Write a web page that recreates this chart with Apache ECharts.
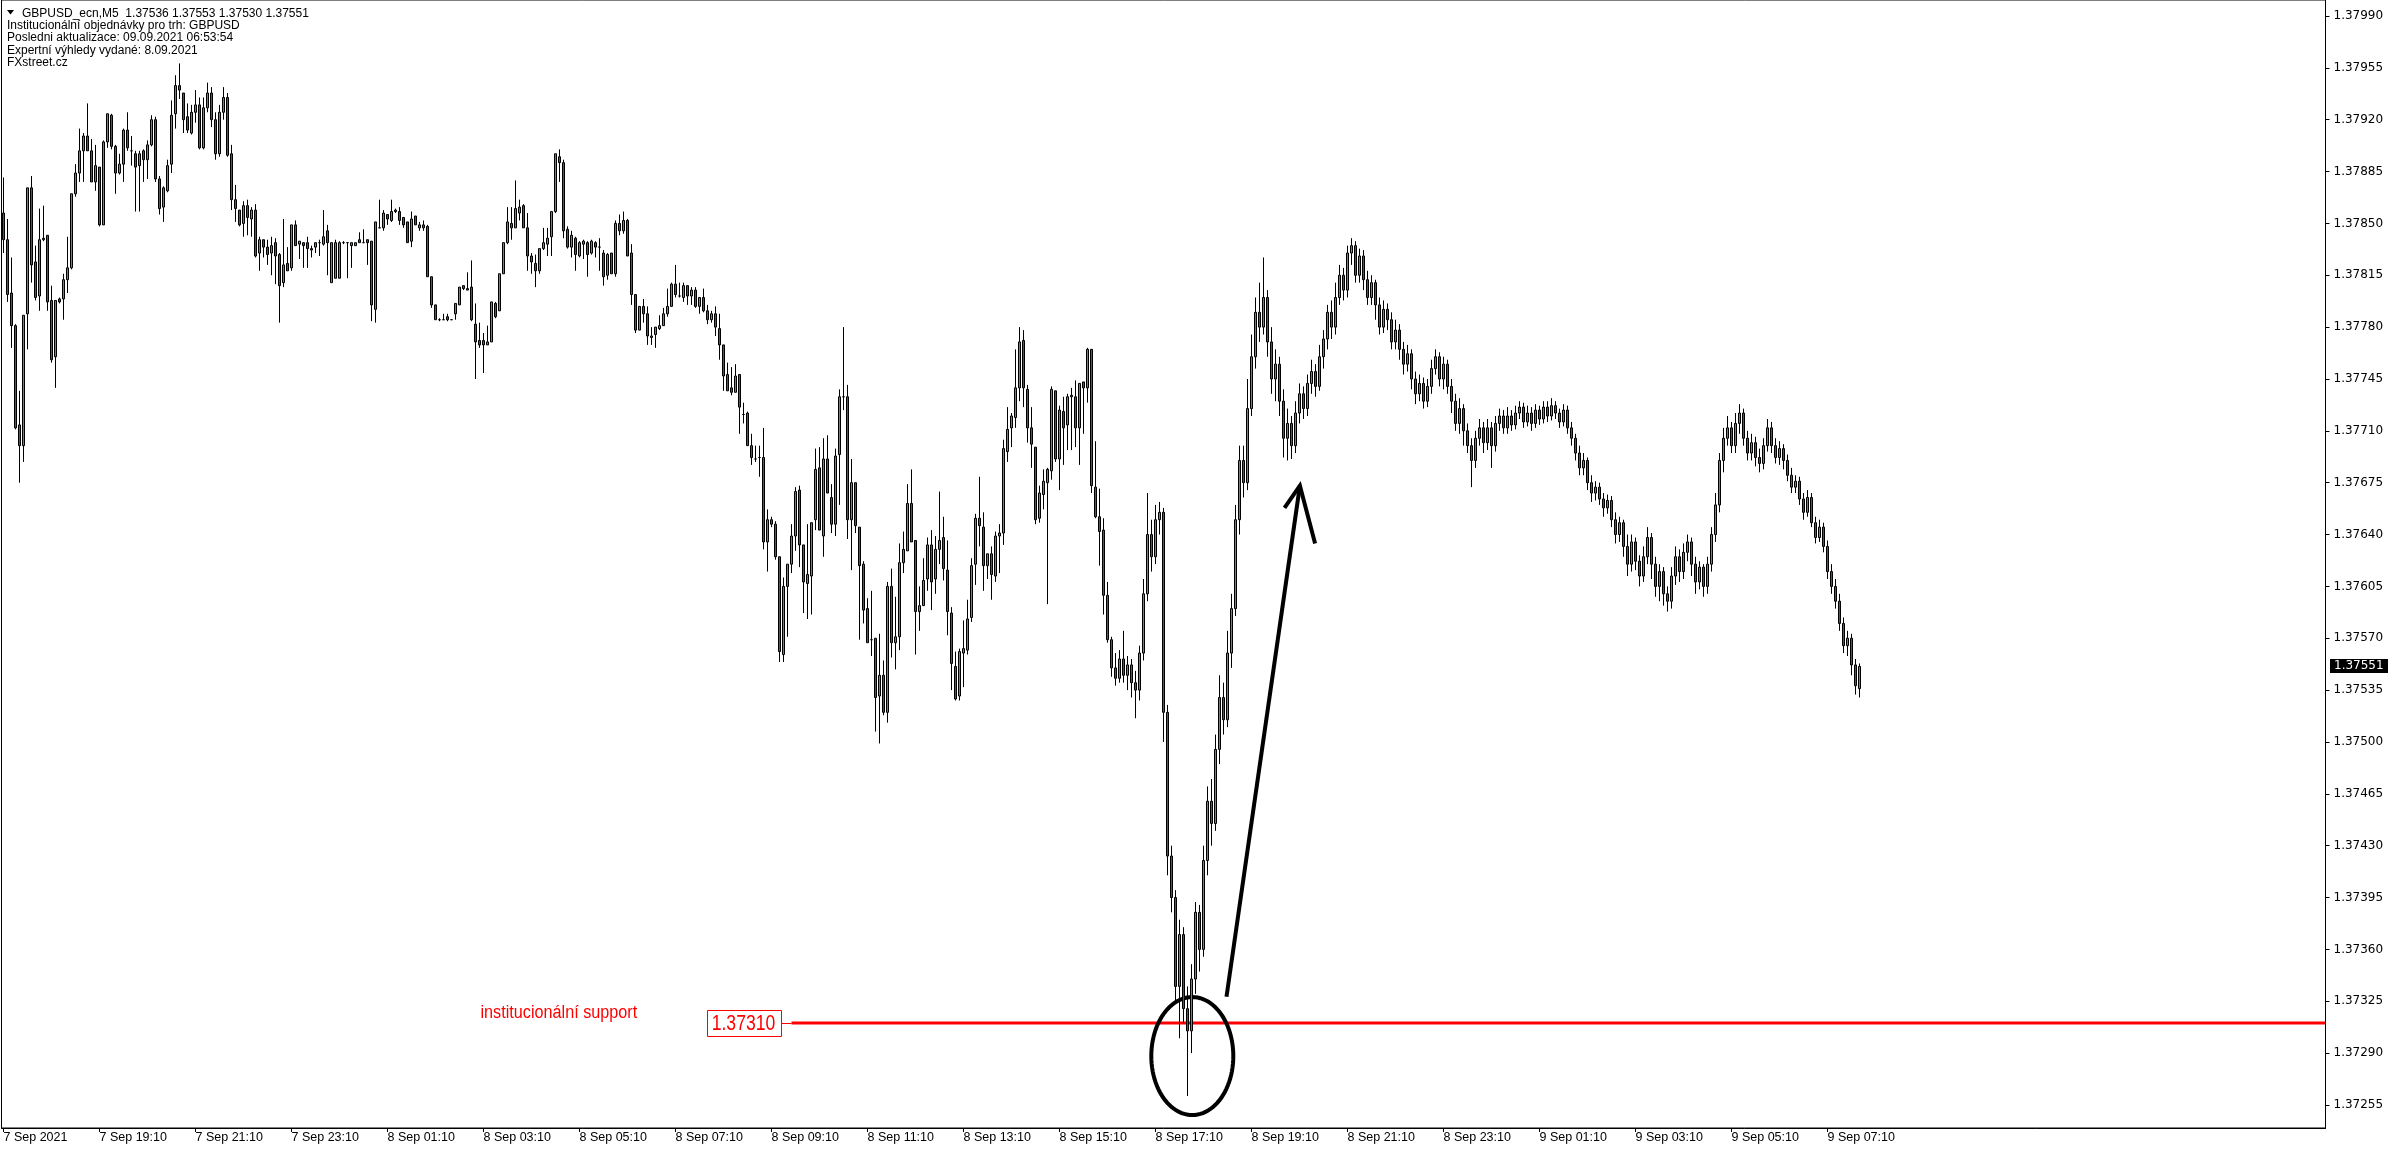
<!DOCTYPE html>
<html>
<head>
<meta charset="utf-8">
<title>GBPUSD_ecn,M5</title>
<script src="https://cdn.jsdelivr.net/npm/echarts@6.0.0/dist/echarts.min.js"></script>
<style>
html,body{margin:0;padding:0;background:#fff;overflow:hidden}
#chart{width:2396px;height:1154px}
</style>
</head>
<body>
<div id="chart"></div>
<script>
// Prices are stored in points (0.00001) above 1.37000; one entry per M5 bar from 7 Sep 17:10.
const PRICE_BASE = 1.37;
const POINT = 0.00001;

const opens = [
857,839,803,781,714,700,789,874,824,801, 839,842,798,760,799,799,812,820,870,884,
899,909,899,878,888,849,905,923,902,884, 890,913,899,897,889,899,893,903,920,880,
861,872,890,924,943,938,922,911,925,930, 901,928,938,920,897,925,935,897,866,859,
850,862,853,859,830,839,834,830,837,829, 810,823,820,849,836,837,837,833,834,837,
836,845,810,813,813,837,837,835,835,839, 837,839,838,792,847,847,856,852,858,858,
854,851,838,855,847,849,848,814,795,785, 785,787,785,789,795,808,806,807,782,771,
771,768,770,796,791,816,837,850,847,857, 862,847,828,823,818,833,836,841,858,895,
891,846,834,840,828,836,837,830,837,834, 830,815,830,816,850,845,852,830,802,778,
794,789,773,775,779,781,789,794,809,801, 800,808,801,805,794,800,791,785,789,779,
768,748,739,736,748,721,722,700,691,692, 692,635,650,647,625,559,605,620,639,670,
633,607,612,650,685,639,691,665,647,694, 733,733,650,675,645,620,590,569,570,531,
545,520,605,567,571,621,629,661,636,588, 592,610,633,610,630,638,616,587,551,531,
560,562,584,620,651,645,619,627,612,639, 641,696,712,719,739,771,738,712,699,651,
667,675,683,737,691,723,714,734,733,712, 743,739,765,672,652,643,599,569,550,543,
556,545,552,540,535,560,600,640,625,650, 655,520,423,395,335,370,320,305,340,385,
360,420,460,445,495,530,515,560,590,650, 690,675,725,760,790,780,800,770,745,755,
730,705,715,700,722,735,725,742,750,740, 760,772,790,780,800,815,805,830,835,815,
828,812,800,810,795,780,792,785,770,778, 765,755,762,745,735,742,730,740,752,760,
745,755,740,730,715,725,710,700,690,705, 712,702,712,700,715,720,712,720,714,722,
726,716,722,715,724,718,726,720,727,722, 716,724,712,705,695,685,690,675,668,672,
664,658,663,650,640,648,632,620,635,622, 612,625,638,620,605,615,600,595,612,625,
615,628,635,620,608,618,605,620,640,660, 690,705,712,700,715,722,705,695,702,692,
688,700,712,700,692,698,690,680,672,676, 664,655,665,648,638,645,632,615,605,595,
580,565,570,552,536
];

const closes = [
839,802,781,712,700,788,874,822,800,839, 840,797,758,798,797,812,820,870,884,899,
909,899,878,889,849,905,924,902,884,890, 913,901,899,888,897,893,903,920,880,860,
874,889,923,943,940,920,913,925,930,901, 928,938,920,897,925,935,896,866,860,849,
862,854,859,828,839,834,829,835,828,808, 822,818,849,835,838,835,833,832,837,837,
841,837,837,837,837,837,837,837,837,837, 837,837,795,851,847,857,853,858,859,852,
849,837,853,849,849,847,814,795,785,785, 785,785,785,796,807,806,805,785,770,768,
768,770,797,787,816,837,851,847,860,861, 847,828,824,818,833,837,840,858,897,891,
845,834,842,829,837,838,829,838,834,834, 814,829,816,850,845,852,828,802,778,794,
789,774,774,780,781,789,794,809,802,801, 808,801,805,794,800,791,785,789,780,768,
747,737,736,747,726,721,700,692,691,692, 635,650,647,625,561,605,620,639,669,633,
608,613,648,684,643,691,668,647,693,733, 733,650,675,646,619,589,567,569,530,545,
520,605,567,571,621,630,661,635,588,592, 609,633,608,630,636,617,588,553,529,561,
563,583,619,651,646,619,627,613,639,641, 698,711,720,739,770,739,712,701,650,668,
676,684,738,691,724,712,733,733,712,742, 739,765,673,652,642,599,569,550,543,556,
545,552,540,535,560,600,640,625,650,655, 520,423,395,335,370,320,305,340,385,360,
420,460,445,495,530,515,560,590,650,690, 675,725,760,790,780,800,770,745,755,730,
705,715,700,722,735,725,742,750,740,760, 772,790,780,800,815,805,830,835,815,828,
812,800,810,795,780,792,785,770,778,765, 755,762,745,735,742,730,740,752,760,745,
755,740,730,715,725,710,700,690,705,712, 702,712,700,715,720,712,720,714,722,726,
716,722,715,724,718,726,720,727,722,716, 724,712,705,695,685,690,675,668,672,664,
658,663,650,640,648,632,620,635,622,612, 625,638,620,605,615,600,595,612,625,615,
628,635,620,608,618,605,620,640,660,690, 705,712,700,715,722,705,695,702,692,688,
700,712,700,692,698,690,680,672,676,664, 655,665,648,638,645,632,615,605,595,580,
565,570,552,538,551
];

const lows = [
830,797,766,711,675,689,765,810,798,791, 838,791,756,739,796,785,803,819,868,878,
878,899,878,872,848,849,901,900,870,883, 878,899,889,858,858,878,880,902,878,856,
851,871,884,914,934,911,911,910,918,900, 900,925,915,893,895,920,895,859,851,848,
841,842,841,827,818,827,822,815,809,783, 807,818,818,835,826,820,820,827,830,828,
835,815,810,813,813,836,813,820,835,837, 837,822,784,783,847,845,849,851,857,849,
847,837,834,849,845,845,814,793,785,784, 785,784,785,785,795,805,805,784,745,766,
749,768,770,786,791,816,836,839,847,852, 847,818,816,807,816,832,828,828,857,878,
840,833,827,818,827,826,814,829,827,818, 808,812,816,814,842,843,828,795,776,778,
783,768,768,766,778,781,787,794,800,800, 797,795,795,793,789,790,782,783,774,758,
737,737,734,736,708,715,700,687,689,679, 630,615,645,623,554,554,571,614,629,618,
587,583,586,643,643,625,668,641,639,660, 724,637,616,641,569,580,567,558,507,499,
518,513,557,549,562,614,629,635,559,575, 592,602,589,600,620,609,572,535,528,528,
537,559,581,606,632,602,610,596,608,614, 633,689,699,712,730,726,702,685,647,648,
657,593,677,689,670,687,697,697,699,687, 708,729,668,651,619,586,567,544,538,540,
540,535,530,516,528,555,595,615,620,640, 500,410,385,325,300,310,261,290,330,345,
355,410,430,440,485,505,510,550,585,640, 665,670,720,752,770,775,760,735,730,720,
692,690,691,695,715,718,720,735,733,737, 752,765,772,775,795,798,800,822,810,810,
805,795,795,785,775,776,778,765,765,758, 748,750,738,728,730,725,726,735,748,740,
738,735,722,710,708,700,695,672,685,700, 695,697,685,696,710,708,708,710,711,718,
712,713,710,712,714,715,716,717,718,712, 713,708,700,690,680,680,670,662,663,660,
652,654,645,634,635,625,612,615,616,605, 608,620,610,598,595,592,588,590,606,608,
610,622,612,600,603,598,600,615,635,655, 682,700,695,695,708,700,690,690,686,682,
684,696,695,688,687,684,676,668,668,660, 650,652,645,634,635,628,610,600,590,575,
560,558,545,532,530
];

const highs = [
881,853,827,782,737,788,874,882,835,860, 862,842,808,798,800,816,841,870,890,914,
911,931,907,903,888,906,924,924,903,897, 914,925,909,899,899,900,906,923,922,882,
875,893,933,950,958,938,931,930,940,935, 935,945,942,925,930,942,938,903,876,859,
865,866,861,863,841,839,839,841,840,830, 853,834,849,852,838,837,841,835,837,839,
859,849,837,839,838,838,837,837,837,844, 846,839,838,851,866,859,856,866,860,861,
854,851,858,855,851,852,849,814,795,786, 789,789,785,796,807,808,817,825,796,783,
776,781,797,797,816,837,861,861,879,866, 863,857,830,829,833,847,847,858,897,900,
893,848,845,841,838,839,838,839,838,840, 832,830,830,852,856,858,853,836,802,794,
799,794,780,780,788,793,806,810,822,810, 810,808,807,807,800,806,795,791,794,789,
768,756,753,755,748,729,723,708,700,700, 712,657,652,649,625,611,620,647,672,673,
633,647,648,698,699,705,707,674,698,738, 780,741,691,675,645,622,597,602,570,573,
555,608,617,598,634,642,674,684,636,605, 624,638,643,639,669,652,636,591,561,563,
582,596,624,654,679,655,627,632,642,647, 704,726,722,765,780,778,741,726,699,673,
684,685,740,737,727,733,735,739,744,742, 743,766,765,703,671,651,608,571,560,562,
575,558,556,548,565,610,668,650,660,662, 658,525,430,400,380,375,335,350,392,390,
430,470,475,505,545,540,575,600,660,700, 700,745,775,800,810,827,805,780,765,760,
738,725,720,730,742,740,748,758,755,768, 778,795,798,810,822,820,835,840,838,833,
832,818,815,812,800,798,796,790,785,782, 770,768,765,750,748,746,745,758,765,763,
760,758,745,735,732,728,715,705,710,718, 716,718,716,720,725,724,726,724,727,730,
729,727,726,728,727,730,730,732,730,725, 728,727,716,708,700,695,692,680,676,675,
668,667,666,655,652,650,640,640,638,626, 632,645,641,625,620,618,605,618,632,630,
634,640,638,625,622,620,625,645,668,695, 712,720,716,722,728,725,710,708,706,698,
705,718,716,705,703,701,694,685,680,679, 668,670,668,652,650,648,636,620,610,600,
584,575,573,556,553
];

// time-axis tick labels, one every 24 bars (2 hours)
const xTickLabels = ["7 Sep 2021","7 Sep 19:10","7 Sep 21:10","7 Sep 23:10","8 Sep 01:10","8 Sep 03:10",
  "8 Sep 05:10","8 Sep 07:10","8 Sep 09:10","8 Sep 11:10","8 Sep 13:10","8 Sep 15:10","8 Sep 17:10",
  "8 Sep 19:10","8 Sep 21:10","8 Sep 23:10","9 Sep 01:10","9 Sep 03:10","9 Sep 05:10","9 Sep 07:10"];
const X_TICK_STEP = 24;

// price-axis tick labels
const yTickValues = [1.37255,1.37290,1.37325,1.37360,1.37395,1.37430,1.37465,1.37500,1.37535,1.37570,
  1.37605,1.37640,1.37675,1.37710,1.37745,1.37780,1.37815,1.37850,1.37885,1.37920,1.37955,1.37990];

const supportLevel = 1.37310;
const supportText = "institucionální support";
const headerLines = ["Institucionální objednávky pro trh: GBPUSD", "Posledni aktualizace: 09.09.2021 06:53:54",
  "Expertní výhledy vydané: 8.09.2021", "FXstreet.cz"];
const symbolName = "GBPUSD_ecn,M5";

// annotation anchors in (bar index, price)
const supportStartBar = 197;
const supportTextBar = 119.25;
const supportBoxBars = [175.75, 194.25];
const ellipseCenter = [297.2, 1.37288];
const arrowShaft = [[305.75, 1.37328], [324.1, 1.37673]];
const arrowHead = [[320.25, 1.37658], [324.1, 1.37673], [327.9, 1.37634]];

// ---------------------------------------------------------------
const toPrice = v => +(PRICE_BASE + v * POINT).toFixed(5);
const SLOTS = 581;
const categories = [];
for (let i = 0; i < SLOTS; i++) categories.push(String(i));
const candles = opens.map((o, i) => [toPrice(o), toPrice(closes[i]), toPrice(lows[i]), toPrice(highs[i])]);
const lastIdx = opens.length - 1;
const lastPrice = toPrice(closes[lastIdx]);
const Y_MIN = 1.3723944, Y_MAX = 1.3800079;
const GRID = {left: 1.5, right: 70.5, top: -1, bottom: 26};
const W = 2396, H = 1154;

const isTick = (idx) => idx % X_TICK_STEP === 0 && idx / X_TICK_STEP < xTickLabels.length;

const chart = echarts.init(document.getElementById('chart'), null, {renderer: 'canvas', width: W, height: H});

chart.setOption({
  animation: false,
  backgroundColor: '#ffffff',
  grid: Object.assign({show: true, borderColor: '#000', borderWidth: 1, backgroundColor: '#fff'}, GRID),
  xAxis: {
    type: 'category', data: categories, boundaryGap: true,
    axisLine: {show: true, lineStyle: {color: '#000', width: 1}},
    axisTick: {show: true, alignWithLabel: true, length: 4, interval: (i) => isTick(i), lineStyle: {color: '#000'}},
    axisLabel: {show: true, interval: (i) => isTick(i), formatter: (v) => xTickLabels[Number(v) / X_TICK_STEP],
      align: 'left', margin: 3, color: '#000', fontFamily: '"Liberation Sans", Arial, sans-serif', fontSize: 12.5},
    splitLine: {show: false}
  },
  yAxis: {
    type: 'value', position: 'right', min: Y_MIN, max: Y_MAX,
    axisLine: {show: true, lineStyle: {color: '#000'}},
    axisTick: {show: true, length: 4, customValues: yTickValues, lineStyle: {color: '#000'}},
    axisLabel: {show: true, customValues: yTickValues, formatter: (v) => Number(v).toFixed(5), margin: 8,
      color: '#000', fontFamily: '"DejaVu Sans", sans-serif', fontSize: 12},
    splitLine: {show: false}
  },
  series: [{
    type: 'candlestick', name: symbolName, data: candles, barWidth: 2, silent: true,
    itemStyle: {color: '#2fb42f', color0: '#e01b1b', borderColor: '#000', borderColor0: '#000', borderWidth: 1}
  }]
});

function px(idx, price) {
  const a = chart.convertToPixel({xAxisIndex: 0, yAxisIndex: 0}, [0, price]);
  const b = chart.convertToPixel({xAxisIndex: 0, yAxisIndex: 0}, [100, price]);
  return [a[0] + (b[0] - a[0]) * idx / 100, a[1]];
}

const plotRight = W - GRID.right;
const sp = px(supportStartBar, supportLevel);
const sy = Math.round(sp[1]);
const boxL = px(supportBoxBars[0], supportLevel)[0];
const boxR = px(supportBoxBars[1], supportLevel)[0];
const txtX = px(supportTextBar, supportLevel)[0];

const ec = px(ellipseCenter[0], ellipseCenter[1]);
const rx = 41, ry = 59;
const ellPts = [];
for (let k = 0; k < 96; k++) {
  const t = k / 96 * Math.PI * 2;
  ellPts.push([ec[0] + rx * Math.cos(t), ec[1] + ry * Math.sin(t)]);
}
const shaftPts = arrowShaft.map(p => px(p[0], p[1]));
const headPts = arrowHead.map(p => px(p[0], p[1]));
const lp = px(lastIdx, lastPrice);

const f5 = v => toPrice(v).toFixed(5);
const line1 = symbolName + '  ' + [opens[lastIdx], highs[lastIdx], lows[lastIdx], closes[lastIdx]].map(f5).join(' ');

const hdrFont = '12px "Liberation Sans", Arial, sans-serif';
const graphics = [
  // support level
  {type: 'line', silent: true, shape: {x1: sp[0], y1: sy, x2: plotRight, y2: sy}, style: {stroke: '#ff0000', lineWidth: 3}},
  {type: 'line', silent: true, shape: {x1: boxR, y1: sy + 0.5, x2: sp[0], y2: sy + 0.5}, style: {stroke: '#ff0000', lineWidth: 1}},
  {type: 'rect', silent: true, shape: {x: Math.round(boxL) + 0.5, y: sy - 12.5, width: Math.round(boxR - boxL), height: 26},
    style: {fill: '#fff', stroke: '#ff0000', lineWidth: 1}},
  {type: 'text', silent: true, x: (boxL + boxR) / 2, y: sy + 1, scaleX: 0.8,
    style: {text: supportLevel.toFixed(5), font: '22px "Liberation Sans", Arial, sans-serif', fill: '#ff0000',
      align: 'center', verticalAlign: 'middle', textAlign: 'center', textVerticalAlign: 'middle'}},
  {type: 'text', silent: true, x: txtX, y: sy - 10, scaleX: 0.9,
    style: {text: supportText, font: '18px "Liberation Sans", Arial, sans-serif', fill: '#ff0000',
      align: 'left', verticalAlign: 'middle', textAlign: 'left', textVerticalAlign: 'middle'}},
  // ellipse around the low
  {type: 'polygon', silent: true, shape: {points: ellPts}, style: {fill: 'none', stroke: '#000', lineWidth: 4}},
  // arrow
  {type: 'polyline', silent: true, shape: {points: shaftPts}, style: {stroke: '#000', lineWidth: 4, fill: 'none'}},
  {type: 'polyline', silent: true, shape: {points: headPts}, style: {stroke: '#000', lineWidth: 4, fill: 'none', lineJoin: 'miter'}},
  // current price tag
  {type: 'rect', silent: true, shape: {x: Math.round(plotRight) + 4, y: Math.round(lp[1]) - 7, width: 58, height: 14}, style: {fill: '#000'}},
  {type: 'text', silent: true, x: Math.round(plotRight) + 8, y: Math.round(lp[1]),
    style: {text: lastPrice.toFixed(5), font: '12px "DejaVu Sans", sans-serif', fill: '#fff',
      align: 'left', verticalAlign: 'middle', textAlign: 'left', textVerticalAlign: 'middle'}},
  // header
  {type: 'polygon', silent: true, shape: {points: [[7, 10], [14, 10], [10.5, 14.5]]}, style: {fill: '#000'}},
  {type: 'text', silent: true, x: 22, y: 13.5,
    style: {text: line1, font: hdrFont, fill: '#000', align: 'left', verticalAlign: 'middle', textAlign: 'left', textVerticalAlign: 'middle'}}
];
const hdrY = [26, 38, 50.2, 62.4];
headerLines.forEach((t, i) => graphics.push({type: 'text', silent: true, x: 7, y: hdrY[i],
  style: {text: t, font: hdrFont, fill: '#000', align: 'left', verticalAlign: 'middle', textAlign: 'left', textVerticalAlign: 'middle'}}));

chart.setOption({graphic: {elements: graphics}});
</script>
</body>
</html>
